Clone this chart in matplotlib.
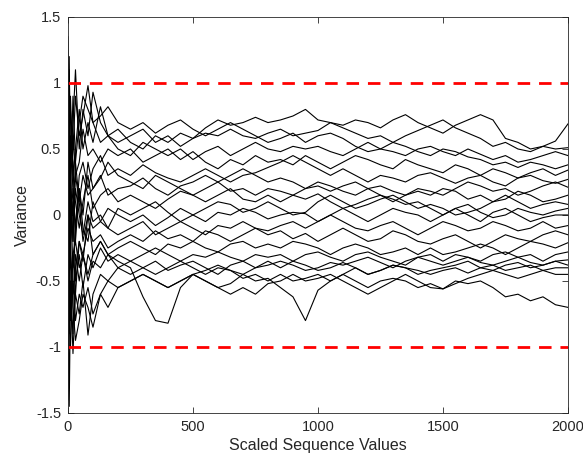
import matplotlib
matplotlib.use("Agg")
import matplotlib.pyplot as plt
import numpy as np

plt.rcParams['font.family'] = ['Liberation Sans', 'DejaVu Sans']

# sample positions (scaled sequence values)
x = [0, 5, 10, 20, 30, 45, 60, 80, 100, 130, 160, 200] + list(range(250, 2001, 50))

# one row per run: x 0..200 / 250..800 / 850..1400 / 1450..2000
runs = [
    [1.35, 0.4, 0.8, 0.5, 0.9, 0.6, 0.75, 0.98, 0.7, 0.55, 0.6, 0.65,
     0.55, 0.5, 0.6, 0.55, 0.62, 0.58, 0.66, 0.72, 0.68, 0.7, 0.74, 0.7,
     0.72, 0.75, 0.8, 0.72, 0.7, 0.68, 0.72, 0.7, 0.66, 0.72, 0.76, 0.7,
     0.66, 0.62, 0.68, 0.72, 0.76, 0.72, 0.58, 0.55, 0.5, 0.52, 0.56, 0.69],
    [0.9, 1.1, 0.4, 0.7, 1.1, 0.5, 0.8, 0.6, 0.93, 0.7, 0.6, 0.55,
     0.6, 0.65, 0.55, 0.6, 0.52, 0.58, 0.62, 0.6, 0.65, 0.6, 0.58, 0.62,
     0.65, 0.6, 0.62, 0.64, 0.7, 0.66, 0.62, 0.58, 0.6, 0.55, 0.6, 0.64,
     0.68, 0.72, 0.66, 0.62, 0.58, 0.52, 0.55, 0.5, 0.48, 0.52, 0.5, 0.51],
    [-0.2, 0.6, 0.9, 0.3, 0.5, 0.8, 0.5, 0.7, 0.55, 0.82, 0.6, 0.5,
     0.45, 0.55, 0.5, 0.45, 0.5, 0.42, 0.48, 0.52, 0.45, 0.5, 0.55, 0.5,
     0.48, 0.52, 0.5, 0.52, 0.48, 0.45, 0.5, 0.55, 0.5, 0.48, 0.45, 0.5,
     0.52, 0.48, 0.45, 0.5, 0.46, 0.42, 0.45, 0.4, 0.42, 0.45, 0.48, 0.45],
    [0.5, 0.2, -0.3, 0.6, 0.3, 0.4, 0.65, 0.45, 0.5, 0.4, 0.5, 0.45,
     0.5, 0.4, 0.45, 0.5, 0.42, 0.48, 0.4, 0.35, 0.42, 0.38, 0.45, 0.4,
     0.42, 0.38, 0.45, 0.4, 0.35, 0.4, 0.45, 0.42, 0.38, 0.35, 0.42, 0.38,
     0.35, 0.32, 0.38, 0.35, 0.3, 0.35, 0.32, 0.28, 0.32, 0.35, 0.3, 0.34],
    [-0.8, 0.1, 0.5, 0.2, -0.1, 0.3, 0.4, 0.2, 0.35, 0.45, 0.3, 0.35,
     0.3, 0.38, 0.32, 0.28, 0.25, 0.3, 0.35, 0.3, 0.25, 0.3, 0.32, 0.36,
     0.4, 0.45, 0.4, 0.35, 0.3, 0.35, 0.3, 0.25, 0.3, 0.28, 0.25, 0.3,
     0.32, 0.28, 0.24, 0.28, 0.3, 0.25, 0.22, 0.28, 0.3, 0.26, 0.24, 0.27],
    [0.3, -0.5, 0.2, 0.0, 0.4, 0.1, 0.3, 0.15, 0.2, 0.28, 0.4, 0.3,
     0.25, 0.2, 0.3, 0.25, 0.2, 0.15, 0.2, 0.25, 0.18, 0.2, 0.15, 0.2,
     0.18, 0.15, 0.2, 0.25, 0.22, 0.18, 0.15, 0.2, 0.22, 0.18, 0.15, 0.2,
     0.18, 0.15, 0.2, 0.25, 0.22, 0.18, 0.2, 0.15, 0.18, 0.22, 0.25, 0.21],
    [-1.0, 0.3, -0.1, 0.2, 0.1, -0.1, 0.1, 0.3, 0.05, 0.15, 0.2, 0.1,
     0.15, 0.1, 0.05, 0.12, 0.18, 0.15, 0.1, 0.15, 0.2, 0.12, 0.1, 0.15,
     0.1, 0.15, 0.12, 0.16, 0.1, 0.05, 0.08, 0.12, 0.15, 0.1, 0.15, 0.18,
     0.15, 0.2, 0.18, 0.12, 0.15, 0.1, 0.12, 0.18, 0.15, 0.1, 0.12, 0.15],
    [0.0, -0.3, 0.3, -0.2, 0.2, 0.0, -0.15, 0.1, -0.05, 0.0, -0.1, 0.05,
     0.0, 0.05, 0.1, 0.02, -0.05, 0.0, 0.05, 0.1, 0.08, 0.02, 0.05, 0.1,
     0.05, 0.0, 0.02, 0.1, 0.15, 0.1, 0.05, 0.08, 0.12, 0.15, 0.1, 0.05,
     0.08, 0.05, 0.0, 0.02, 0.05, 0.1, 0.15, 0.1, 0.05, 0.08, 0.1, 0.08],
    [-0.5, -1.45, -0.6, -0.9, -0.4, -0.2, -0.35, 0.0, -0.1, -0.05, 0.05, 0.0,
     -0.05, 0.0, -0.08, -0.02, 0.05, 0.0, -0.05, 0.02, 0.0, 0.05, 0.02, -0.03,
     0.0, 0.02, 0.01, -0.05, 0.0, 0.05, 0.0, -0.05, 0.0, 0.05, 0.02, 0.0,
     -0.05, 0.0, 0.05, 0.0, -0.05, 0.02, 0.05, 0.0, -0.05, -0.02, 0.0, 0.0],
    [0.6, -0.2, 0.1, -0.4, -0.1, 0.2, -0.1, -0.2, 0.1, -0.05, -0.1, -0.15,
     -0.1, -0.05, -0.15, -0.1, -0.05, -0.1, -0.15, -0.08, -0.1, -0.05, -0.1, -0.12,
     -0.08, -0.05, -0.1, -0.05, 0.0, -0.05, -0.1, -0.12, -0.08, -0.05, -0.1, -0.15,
     -0.1, -0.05, -0.08, -0.12, -0.1, -0.05, -0.08, -0.12, -0.1, -0.05, -0.1, -0.08],
    [-0.3, 0.2, -0.8, -0.3, -0.6, -0.2, -0.3, -0.1, -0.2, -0.15, -0.25, -0.2,
     -0.15, -0.2, -0.12, -0.18, -0.15, -0.2, -0.12, -0.15, -0.2, -0.15, -0.1, -0.15,
     -0.12, -0.18, -0.14, -0.2, -0.15, -0.1, -0.15, -0.2, -0.18, -0.12, -0.15, -0.2,
     -0.22, -0.18, -0.15, -0.2, -0.25, -0.2, -0.15, -0.18, -0.2, -0.15, -0.12, -0.15],
    [-1.2, -0.7, -0.3, -0.6, -0.3, -0.5, -0.3, -0.45, -0.3, -0.2, -0.3, -0.25,
     -0.2, -0.25, -0.3, -0.22, -0.25, -0.2, -0.25, -0.28, -0.22, -0.2, -0.25, -0.22,
     -0.25, -0.2, -0.22, -0.25, -0.3, -0.25, -0.22, -0.25, -0.3, -0.28, -0.25, -0.3,
     -0.25, -0.3, -0.28, -0.25, -0.22, -0.25, -0.3, -0.25, -0.2, -0.22, -0.25, -0.21],
    [0.8, -0.4, -0.2, 0.1, -0.5, -0.3, -0.55, -0.3, -0.4, -0.25, -0.35, -0.3,
     -0.35, -0.3, -0.25, -0.3, -0.35, -0.3, -0.32, -0.28, -0.32, -0.35, -0.3, -0.32,
     -0.3, -0.35, -0.3, -0.28, -0.32, -0.35, -0.3, -0.28, -0.32, -0.35, -0.38, -0.32,
     -0.3, -0.35, -0.3, -0.32, -0.35, -0.3, -0.28, -0.32, -0.3, -0.35, -0.3, -0.28],
    [-0.1, -0.9, -0.5, -1.05, -0.6, -0.75, -0.5, -0.91, -0.6, -0.45, -0.5, -0.4,
     -0.45, -0.4, -0.35, -0.42, -0.38, -0.35, -0.4, -0.45, -0.38, -0.35, -0.4, -0.38,
     -0.35, -0.38, -0.42, -0.4, -0.36, -0.38, -0.35, -0.32, -0.36, -0.4, -0.35, -0.32,
     -0.35, -0.38, -0.35, -0.32, -0.36, -0.38, -0.35, -0.32, -0.36, -0.38, -0.35, -0.34],
    [0.4, -0.8, -1.0, -0.5, -0.8, -0.6, -0.7, -0.55, -0.75, -0.6, -0.5, -0.55,
     -0.5, -0.45, -0.5, -0.55, -0.5, -0.45, -0.5, -0.55, -0.52, -0.45, -0.5, -0.48,
     -0.55, -0.62, -0.8, -0.57, -0.5, -0.45, -0.4, -0.45, -0.42, -0.38, -0.4, -0.45,
     -0.42, -0.4, -0.38, -0.35, -0.4, -0.42, -0.38, -0.36, -0.4, -0.38, -0.35, -0.38],
    [-1.4, -0.5, -0.7, -0.3, -0.2, -0.4, -0.3, -0.5, -0.35, -0.4, -0.3, -0.35,
     -0.4, -0.62, -0.8, -0.82, -0.55, -0.45, -0.42, -0.38, -0.42, -0.45, -0.4, -0.35,
     -0.4, -0.35, -0.38, -0.42, -0.4, -0.36, -0.4, -0.45, -0.42, -0.38, -0.4, -0.42,
     -0.45, -0.42, -0.4, -0.44, -0.4, -0.38, -0.42, -0.4, -0.38, -0.42, -0.4, -0.40],
    [1.0, 0.5, -0.2, -0.7, -0.95, -0.8, -0.6, -0.7, -0.85, -0.6, -0.7, -0.55,
     -0.5, -0.45, -0.5, -0.55, -0.5, -0.45, -0.5, -0.55, -0.6, -0.55, -0.6, -0.52,
     -0.5, -0.45, -0.5, -0.48, -0.45, -0.5, -0.55, -0.6, -0.55, -0.5, -0.45, -0.5,
     -0.55, -0.56, -0.52, -0.48, -0.45, -0.42, -0.45, -0.48, -0.45, -0.42, -0.45, -0.45],
    [-0.6, 0.6, 0.2, -0.2, 0.3, 0.1, -0.2, 0.0, -0.3, -0.2, -0.3, -0.4,
     -0.35, -0.4, -0.45, -0.4, -0.35, -0.4, -0.45, -0.4, -0.42, -0.48, -0.45, -0.5,
     -0.45, -0.5, -0.48, -0.45, -0.5, -0.45, -0.5, -0.55, -0.5, -0.48, -0.5, -0.55,
     -0.52, -0.56, -0.5, -0.52, -0.5, -0.55, -0.62, -0.6, -0.65, -0.62, -0.68, -0.70],
    [0.7, 1.2, 0.2, 0.9, 0.4, 0.7, 0.9, 0.8, 0.7, 0.75, 0.82, 0.7,
     0.65, 0.7, 0.62, 0.68, 0.72, 0.65, 0.6, 0.65, 0.7, 0.65, 0.6, 0.55,
     0.58, 0.62, 0.55, 0.6, 0.62, 0.58, 0.52, 0.48, 0.5, 0.55, 0.52, 0.48,
     0.45, 0.5, 0.48, 0.44, 0.42, 0.38, 0.4, 0.36, 0.4, 0.38, 0.35, 0.38],
    [-0.9, 0.0, 0.6, 0.4, -0.2, 0.2, 0.0, 0.4, 0.2, 0.3, 0.15, 0.2,
     0.22, 0.28, 0.2, 0.15, 0.22, 0.25, 0.3, 0.25, 0.3, 0.35, 0.3, 0.25,
     0.28, 0.25, 0.2, 0.22, 0.18, 0.22, 0.25, 0.2, 0.15, 0.12, 0.08, 0.1,
     0.05, 0.0, 0.05, 0.08, 0.02, -0.02, 0.0, 0.05, 0.02, 0.0, 0.03, 0.05],
]
limits = [1, -1]

fig = plt.figure(figsize=(5.83, 4.58), dpi=100)
ax = fig.add_axes([0.1166, 0.0983, 0.8576, 0.8646])

for r in runs:
    ax.plot(x, r, color='k', linewidth=0.8)
for lim in limits:
    ax.axhline(lim, color='r', linewidth=2.0, linestyle=(0, (4.5, 3.2)))

ax.set_xlim(0, 2000)
ax.set_ylim(-1.5, 1.5)
ax.set_xticks([0, 500, 1000, 1500, 2000])
ax.set_yticks([-1.5, -1, -0.5, 0, 0.5, 1, 1.5])
ax.set_yticklabels(['-1.5', '-1', '-0.5', '0', '0.5', '1', '1.5'])
ax.tick_params(direction='in', top=True, right=True, length=4, width=0.6,
               colors='#262626', labelsize=10.5, pad=5)
for s in ax.spines.values():
    s.set_color('#262626')
    s.set_linewidth(0.6)
ax.set_xlabel('Scaled Sequence Values', fontsize=11.5, color='#262626', labelpad=3)
ax.set_ylabel('Variance', fontsize=11.5, color='#262626', labelpad=4)

fig.savefig('out.png', dpi=100)
